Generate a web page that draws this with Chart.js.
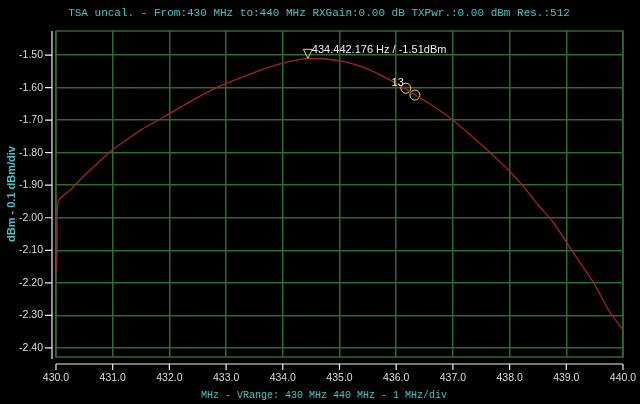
<!DOCTYPE html>
<html>
<head>
<meta charset="utf-8">
<script src="https://cdn.jsdelivr.net/npm/chart.js@4.4.1/dist/chart.umd.min.js"></script>
<style>
  html, body { margin: 0; padding: 0; background: #000; }
  #wrap { width: 640px; height: 404px; }
</style>
</head>
<body>
<div id="wrap"><canvas id="tsa" width="640" height="404"></canvas></div>
<script>
// Sweep data
const freqs = [430.00, 430.02, 430.04, 430.25, 430.50, 430.75, 431.00, 431.25, 431.50, 431.75,
               432.00, 432.25, 432.50, 432.75, 433.00, 433.25, 433.50, 433.75, 434.00, 434.25,
               434.44, 434.75, 435.00, 435.25, 435.50, 435.75, 436.00, 436.25, 436.50, 436.75,
               437.00, 437.25, 437.50, 437.75, 438.00, 438.25, 438.50, 438.75, 439.00, 439.25,
               439.50, 439.75, 440.00];
const levels = [-2.17, -2.10, -1.95, -1.915, -1.87, -1.83, -1.79, -1.76, -1.73, -1.705,
                -1.68, -1.655, -1.63, -1.607, -1.587, -1.57, -1.553, -1.538, -1.525, -1.515,
                -1.51, -1.512, -1.518, -1.528, -1.543, -1.563, -1.587, -1.613, -1.64, -1.668,
                -1.70, -1.737, -1.775, -1.815, -1.857, -1.905, -1.96, -2.01, -2.075, -2.14,
                -2.205, -2.285, -2.345];

const xTicks = [430, 431, 432, 433, 434, 435, 436, 437, 438, 439, 440];
const yTicks = [-1.5, -1.6, -1.7, -1.8, -1.9, -2.0, -2.1, -2.2, -2.3, -2.4];

const peakFreq = 434.442;
const peakLevel = -1.51;
const peakLabel = '434.442.176 Hz / -1.51dBm';
const circleFreqs = [436.17, 436.33];
const circleLevels = [-1.602, -1.623];
const circleLabel = '13';

const topTitle = 'TSA uncal. - From:430 MHz to:440 MHz RXGain:0.00 dB TXPwr.:0.00 dBm Res.:512';
const bottomTitle = 'MHz - VRange: 430 MHz 440 MHz - 1 MHz/div';

const GREEN = '#2b6b2b';
const CYAN = '#3fc6c6';
const LABEL = '#dcdcdc';
const MONO = '"Liberation Mono", monospace';
const SANS = '"Liberation Sans", Arial, sans-serif';

// frame, white axis lines, markers and the two mono titles
const overlay = {
    id: 'overlay',
    beforeDatasetsDraw(chart) {
        const { ctx, chartArea: a } = chart;
        ctx.save();
        ctx.strokeStyle = GREEN;
        ctx.lineWidth = 1.5;
        ctx.strokeRect(a.left, a.top, a.right - a.left, a.bottom - a.top);
        ctx.restore();
    },
    afterDatasetsDraw(chart) {
        const { ctx, chartArea: a, scales } = chart;
        const xs = scales.x, ys = scales.y;
        ctx.save();
        ctx.strokeStyle = '#f0f0f0';
        ctx.lineWidth = 1.2;
        // y axis
        const ax = a.left - 4;
        ctx.beginPath();
        ctx.moveTo(ax, a.top);
        ctx.lineTo(ax, a.bottom + 2);
        yTicks.forEach(v => {
            const py = ys.getPixelForValue(v);
            ctx.moveTo(ax - 7, py);
            ctx.lineTo(ax, py);
        });
        ctx.stroke();
        // x axis
        const ay = a.bottom + 7;
        ctx.beginPath();
        ctx.moveTo(a.left, ay);
        ctx.lineTo(a.right, ay);
        xTicks.forEach(v => {
            const px = xs.getPixelForValue(v);
            ctx.moveTo(px, ay);
            ctx.lineTo(px, ay + 6);
        });
        ctx.stroke();

        // peak marker triangle
        const tx = xs.getPixelForValue(peakFreq);
        const ty = ys.getPixelForValue(peakLevel);
        ctx.strokeStyle = '#e8e040';
        ctx.lineWidth = 1;
        ctx.beginPath();
        ctx.moveTo(tx, ty);
        ctx.lineTo(tx - 4.5, ty - 9);
        ctx.lineTo(tx + 4.5, ty - 9);
        ctx.closePath();
        ctx.stroke();

        ctx.fillStyle = '#f0f0f0';
        ctx.font = '11px ' + SANS;
        ctx.textBaseline = 'middle';
        ctx.textAlign = 'left';
        ctx.fillText(peakLabel, tx + 4, ty - 8);

        const cx = xs.getPixelForValue(circleFreqs[0]);
        const cy = ys.getPixelForValue(circleLevels[0]);
        ctx.textAlign = 'right';
        ctx.fillText(circleLabel, cx - 2, cy - 5);

        // titles
        ctx.fillStyle = CYAN;
        ctx.textAlign = 'center';
        ctx.font = '11px ' + MONO;
        ctx.fillText(topTitle, 319, 13);
        ctx.font = '10px ' + MONO;
        ctx.fillText(bottomTitle, 324, 395);
        ctx.restore();
    }
};

new Chart(document.getElementById('tsa'), {
    type: 'scatter',
    data: {
        datasets: [{
            data: freqs.map((f, i) => ({ x: f, y: levels[i] })),
            showLine: true,
            borderColor: '#a82020',
            borderWidth: 1.3,
            pointRadius: 0,
            tension: 0.3
        }, {
            data: circleFreqs.map((f, i) => ({ x: f, y: circleLevels[i] })),
            showLine: false,
            pointStyle: 'circle',
            pointRadius: 5,
            borderColor: '#e8e040',
            borderWidth: 1,
            backgroundColor: 'rgba(0,0,0,0)'
        }]
    },
    options: {
        responsive: false,
        animation: false,
        layout: { padding: { left: 0, right: 17, top: 31, bottom: 0 } },
        plugins: {
            legend: { display: false },
            tooltip: { enabled: false },
            title: { display: false }
        },
        scales: {
            x: {
                type: 'linear',
                min: 430,
                max: 440,
                afterBuildTicks: s => { s.ticks = xTicks.map(v => ({ value: v })); },
                afterFit: s => { s.height = 47; s.paddingLeft = 0; s.paddingRight = 0; },
                grid: { color: GREEN, lineWidth: 1.5, drawTicks: false },
                border: { display: false },
                ticks: {
                    color: LABEL,
                    padding: 15,
                    maxRotation: 0,
                    font: { family: SANS, size: 10.5 },
                    callback: v => v.toFixed(1)
                }
            },
            y: {
                min: -2.428,
                max: -1.426,
                afterBuildTicks: s => { s.ticks = yTicks.map(v => ({ value: v })); },
                afterFit: s => { s.width = 56; s.paddingTop = 0; s.paddingBottom = 0; },
                grid: { color: GREEN, lineWidth: 1.5, drawTicks: false },
                border: { display: false },
                ticks: {
                    color: LABEL,
                    padding: 13,
                    font: { family: SANS, size: 10.5 },
                    callback: v => v.toFixed(2)
                },
                title: {
                    display: true,
                    text: 'dBm - 0.1 dBm/div',
                    color: CYAN,
                    font: { family: SANS, size: 11, weight: 'bold' },
                    padding: { top: 5, bottom: 0 }
                }
            }
        }
    },
    plugins: [overlay]
});
</script>
</body>
</html>
